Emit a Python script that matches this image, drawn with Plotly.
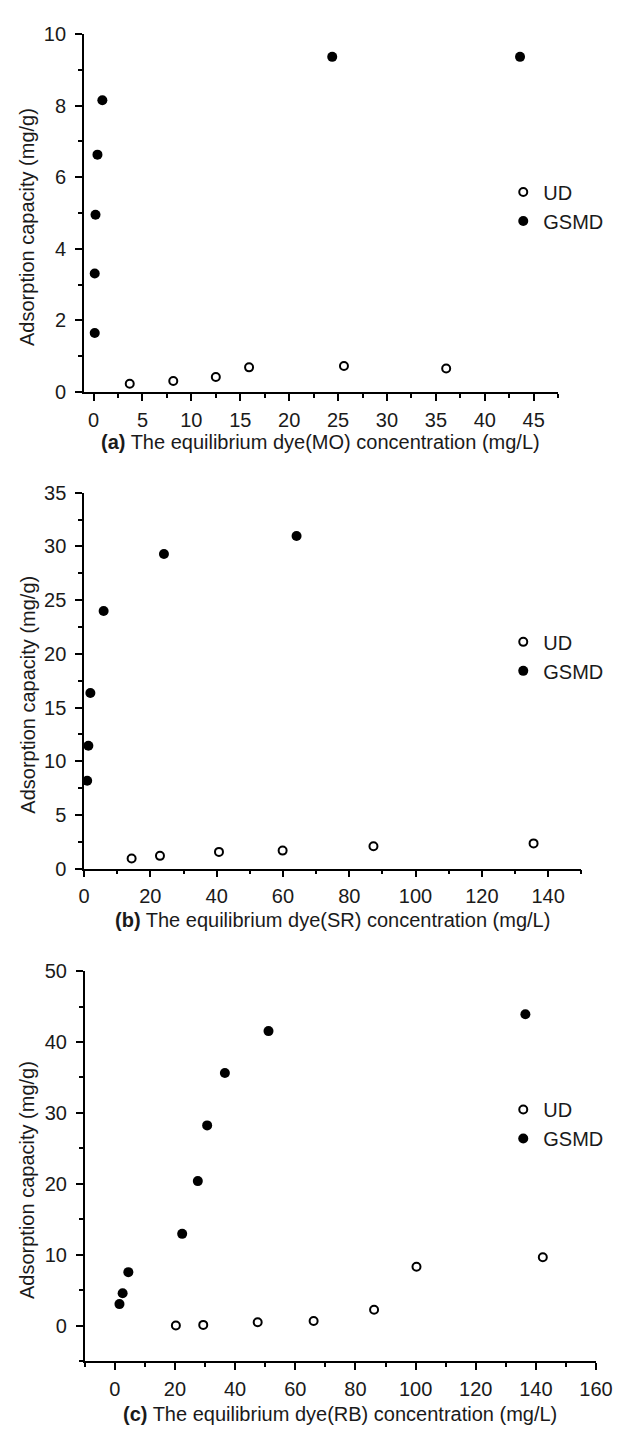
import plotly.graph_objects as go

W, H = 633, 1435

# ---------------- data ----------------
a_ud_x = [3.7, 8.15, 12.5, 15.9, 25.6, 36.05]
a_ud_y = [0.23, 0.31, 0.42, 0.69, 0.73, 0.66]
a_gsmd_x = [0.12, 0.12, 0.2, 0.4, 0.9, 24.4, 43.6]
a_gsmd_y = [1.65, 3.31, 4.95, 6.63, 8.15, 9.36, 9.36]

b_ud_x = [14.35, 22.9, 40.7, 59.9, 87.3, 135.6]
b_ud_y = [0.95, 1.19, 1.56, 1.68, 2.08, 2.35]
b_gsmd_x = [0.94, 1.3, 1.9, 5.9, 24.1, 64.1]
b_gsmd_y = [8.19, 11.44, 16.36, 24.0, 29.3, 30.98]

c_ud_x = [20.3, 29.4, 47.5, 66.1, 86.2, 100.3, 142.3]
c_ud_y = [0.0, 0.09, 0.47, 0.65, 2.23, 8.28, 9.63]
c_gsmd_x = [1.55, 2.6, 4.5, 22.4, 27.6, 30.7, 36.6, 51.1, 136.5]
c_gsmd_y = [3.02, 4.56, 7.53, 12.93, 20.37, 28.23, 35.63, 41.53, 43.9]

series_names = ["UD", "GSMD"]
x_titles = [
    "<b>(a)</b> The equilibrium dye(MO) concentration (mg/L)",
    "<b>(b)</b> The equilibrium dye(SR) concentration (mg/L)",
    "<b>(c)</b> The equilibrium dye(RB) concentration (mg/L)",
]
y_title = "Adsorption capacity (mg/g)"

FONT = "Liberation Sans, Arial, sans-serif"
TXT = "#1a1a1a"


def px_x(p):
    return p / W


def px_y(p):
    return 1 - p / H


# panel geometry in pixels: (left, right, top, bottom)
panels = [
    dict(l=80.7, r=573, t=23.3, b=387, xr=[-1, 47.5], yr=[0, 10], xd=5, xm=2.5, yd=2, ym=1,
         leg_y=198.5, title_y=438),
    dict(l=81, r=597, t=489.3, b=871, xr=[0, 150], yr=[0, 35], xd=20, xm=10, yd=5, ym=2.5,
         leg_y=655.4, title_y=923),
    dict(l=81.7, r=612.3, t=975, b=1371, xr=[-10, 160], yr=[-5, 50], xd=20, xm=10, yd=10, ym=5,
         leg_y=1130.4, title_y=1425),
]

data = [
    (a_ud_x, a_ud_y, a_gsmd_x, a_gsmd_y),
    (b_ud_x, b_ud_y, b_gsmd_x, b_gsmd_y),
    (c_ud_x, c_ud_y, c_gsmd_x, c_gsmd_y),
]

fig = go.Figure()
layout = dict(
    width=W, height=H, margin=dict(l=0, r=0, t=0, b=0),
    paper_bgcolor="white", plot_bgcolor="white",
    font=dict(family=FONT, size=20, color=TXT),
    annotations=[],
)

for i, (p, d) in enumerate(zip(panels, data)):
    n = "" if i == 0 else str(i + 1)
    leg = "legend" + n
    ux, uy, gx, gy = d
    fig.add_trace(go.Scatter(
        x=ux, y=uy, mode="markers", name=series_names[0],
        xaxis="x" + n, yaxis="y" + n, legend=leg, cliponaxis=False,
        marker=dict(symbol="circle-open", size=8, color="black", line=dict(width=2, color="black")),
    ))
    fig.add_trace(go.Scatter(
        x=gx, y=gy, mode="markers", name=series_names[1],
        xaxis="x" + n, yaxis="y" + n, legend=leg, cliponaxis=False,
        marker=dict(symbol="circle", size=10, color="black"),
    ))
    common = dict(
        showline=True, linecolor="black", linewidth=1.5, showgrid=False, zeroline=False,
        ticks="outside", ticklen=7, tickwidth=1.5, tickcolor="black",
        tickfont=dict(family=FONT, size=20, color=TXT),
    )
    layout["xaxis" + n] = dict(
        common, domain=[px_x(p["l"]), px_x(p["r"])], range=p["xr"], anchor="y" + n,
        tick0=0, dtick=p["xd"], ticklabelstandoff=2,
        minor=dict(ticks="outside", ticklen=4, tickwidth=1.5, tickcolor="black", dtick=p["xm"], tick0=0),
    )
    layout["yaxis" + n] = dict(
        common, domain=[px_y(p["b"]), px_y(p["t"])], range=p["yr"], anchor="x" + n,
        tick0=0, dtick=p["yd"], ticklabelstandoff=5,
        minor=dict(ticks="outside", ticklen=4, tickwidth=1.5, tickcolor="black", dtick=p["ym"], tick0=0),
    )
    layout[leg] = dict(
        x=px_x(516), y=px_y(p["leg_y"]), xanchor="left", yanchor="middle",
        xref="paper", yref="paper", bgcolor="rgba(0,0,0,0)",
        font=dict(family=FONT, size=20, color=TXT), tracegroupgap=0,
    )
    layout["annotations"].append(dict(
        text=x_titles[i], x=px_x((p["l"] + p["r"]) / 2), y=px_y(p["title_y"]),
        xref="paper", yref="paper", showarrow=False, xanchor="center", yanchor="middle",
        font=dict(family=FONT, size=20, color=TXT),
    ))
    layout["annotations"].append(dict(
        text=y_title, x=px_x(22), y=px_y((p["t"] + p["b"]) / 2 + 14),
        xref="paper", yref="paper", showarrow=False, xanchor="center", yanchor="middle",
        textangle=-90, font=dict(family=FONT, size=20, color=TXT),
    ))

fig.update_layout(**layout)
fig.update_layout(showlegend=True)
fig.write_html("out.html")
